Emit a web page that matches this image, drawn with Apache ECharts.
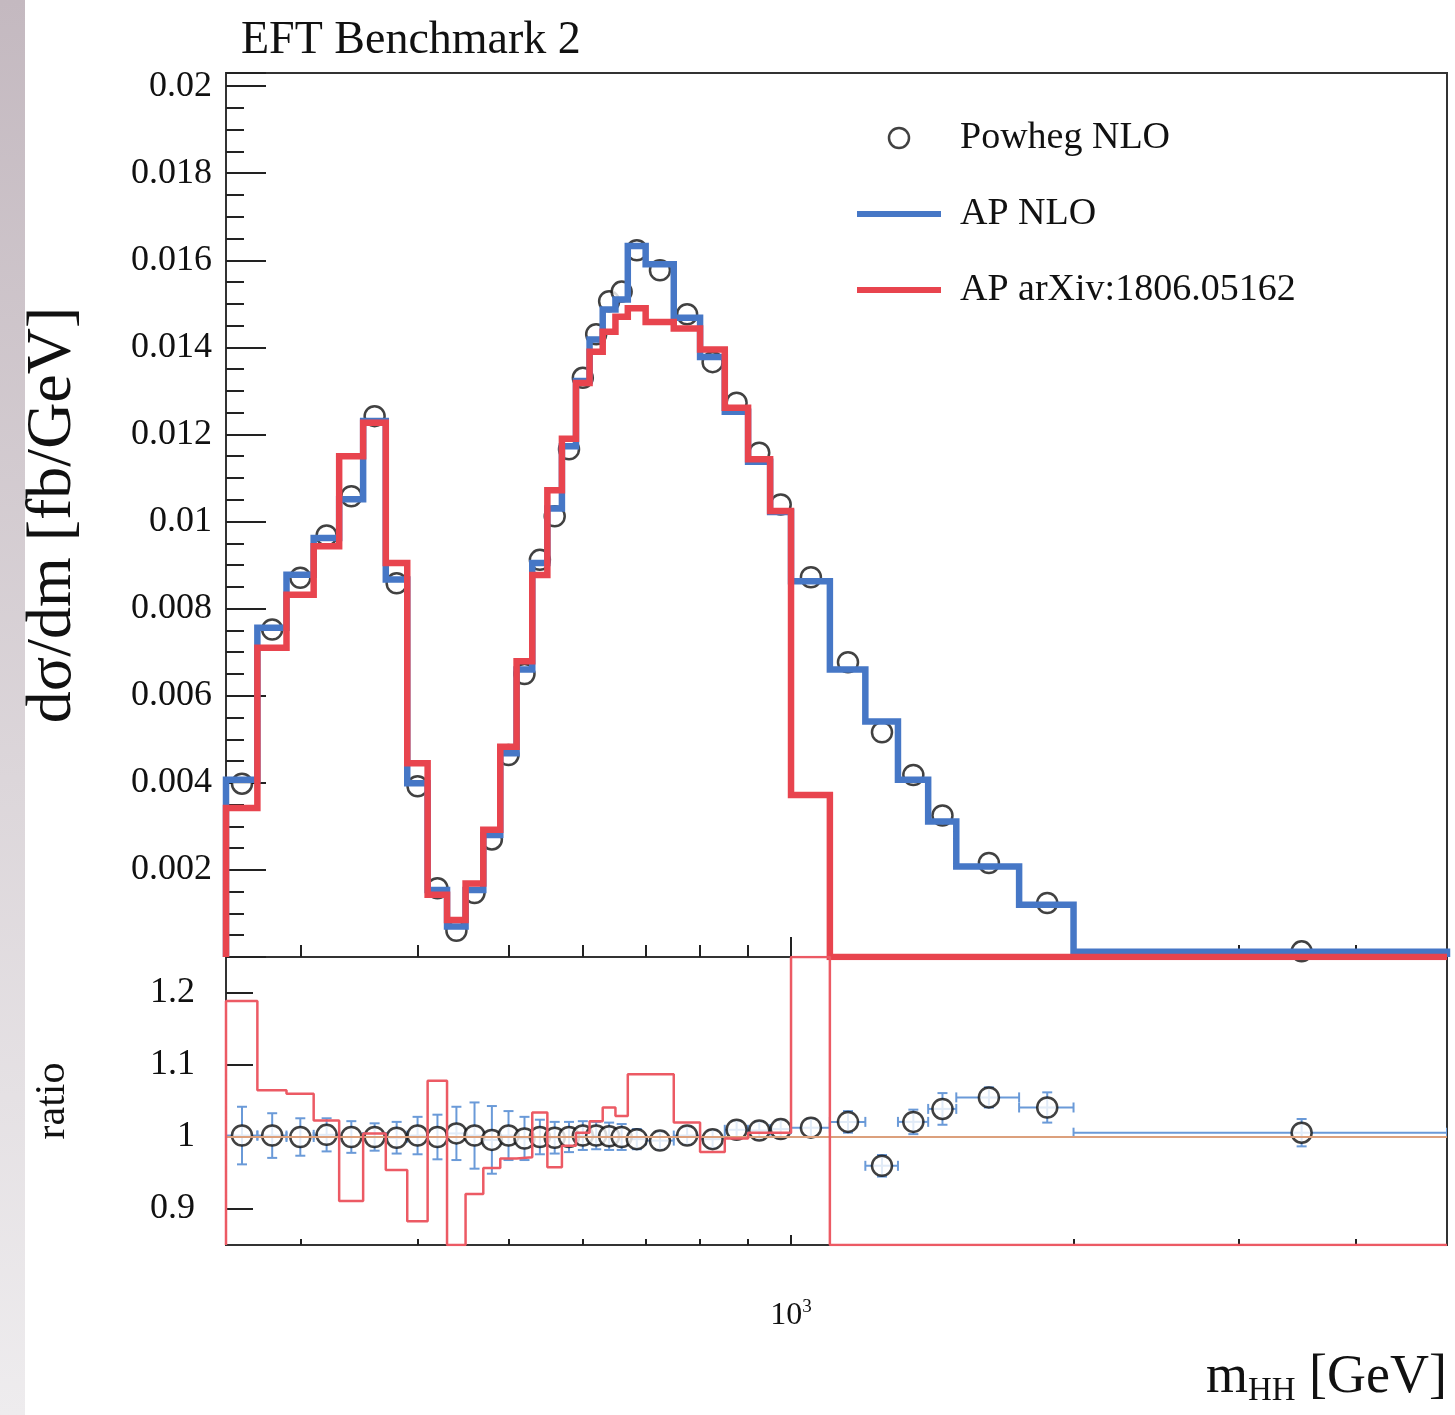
<!DOCTYPE html>
<html>
<head>
<meta charset="utf-8">
<script src="https://cdn.jsdelivr.net/npm/echarts@6/dist/echarts.min.js"></script>
<style>
html,body{margin:0;padding:0;background:#fff;}
#strip{position:absolute;left:0;top:0;width:25px;height:1415px;background:linear-gradient(to bottom,#c4b9c0,#dcd6da 55%,#eeecee);}
#chart{position:absolute;left:0;top:0;width:1455px;height:1415px;}
</style>
</head>
<body>
<div id="strip"></div>
<div id="chart"></div>
<script>
// ---- data ----
const binEdges = [250,270,290,310,330,350,370,390,410,430,450,470,490,510,530,550,570,590,610,630,650,670,700,750,800,850,900,950,1000,1100,1200,1300,1400,1500,1750,2000,5000];

const powhegNLO = [0.00398,0.00752,0.00871,0.00968,0.01058,0.01242,0.00858,0.00392,0.00158,0.00060,0.00147,0.00270,0.00464,0.00650,0.00912,0.01012,0.01166,0.01330,0.01430,0.01506,0.01528,0.01623,0.01577,0.01476,0.01366,0.01273,0.01158,0.01039,0.00872,0.00677,0.00516,0.00418,0.00325,0.00216,0.00124,0.00013];

const apNLO = [0.00407,0.00756,0.00878,0.00962,0.01051,0.01231,0.00867,0.00399,0.00154,0.00070,0.00154,0.00280,0.00468,0.00660,0.00905,0.01030,0.01173,0.01323,0.01418,0.01487,0.01510,0.01633,0.01591,0.01468,0.01378,0.01252,0.01137,0.01022,0.00863,0.00660,0.00541,0.00407,0.00311,0.00208,0.00120,0.00012];

const apArxiv = [0.00342,0.00710,0.00832,0.00943,0.01150,0.01227,0.00905,0.00445,0.00143,0.00085,0.00169,0.00292,0.00483,0.00679,0.00877,0.01072,0.01190,0.01318,0.01390,0.01436,0.01470,0.01490,0.01458,0.01443,0.01395,0.01261,0.01143,0.01024,0.00372,0,0,0,0,0,0,0];

const ratioPowheg = [1.002,1.002,1.000,1.003,1.000,1.000,0.999,1.002,1.000,1.005,1.002,0.996,1.002,0.998,1.000,0.999,1.000,1.002,1.002,1.001,1.000,0.997,0.995,1.002,0.997,1.010,1.009,1.011,1.013,1.021,0.960,1.021,1.039,1.055,1.041,1.006];

const ratioPowhegErr = [0.040,0.031,0.026,0.023,0.022,0.019,0.022,0.026,0.031,0.037,0.046,0.047,0.034,0.030,0.024,0.022,0.021,0.020,0.019,0.019,0.018,0.014,0.012,0.012,0.012,0.012,0.012,0.012,0.012,0.015,0.015,0.017,0.022,0.014,0.021,0.019];

const ratioArxiv = [1.189,1.065,1.060,1.023,0.911,1.005,0.954,0.883,1.078,0.75,0.921,0.957,0.970,0.972,1.034,0.958,0.988,1.006,1.022,1.041,1.029,1.087,1.087,1.020,0.979,0.998,1.006,1.006,2.3,0,0,0,0,0,0,0];

const xMinorTicks = [300,400,500,600,700,800,900,2000,3000,4000];
const xMajorTicks = [1000];
const ratioTicks = [0.9,1,1.1,1.2];

// ---- styles ----
const BLUE = '#4677c6', RED = '#e8444e', ERR = '#6a9ad8', RRED = '#ec5a64', ORANGE = '#dca07c';
const FONT = 'Liberation Serif';
const X_MIN = 250, X_MAX = 5000, Y_MAX = 0.0203, R_MIN = 0.85, R_MAX = 1.25;

const centers = binEdges.slice(0, -1).map((e, i) => (e + binEdges[i + 1]) / 2);
function stepPoints(vals, f) {
  f = f || (v => v);
  const last = binEdges.length - 1;
  const pts = [[binEdges[0], f(0)]];
  vals.forEach((v, i) => { pts.push([binEdges[i], f(v)], [binEdges[i + 1], f(v)]); });
  pts.push([binEdges[last], f(0)]);
  return pts;
}
const clampR = v => Math.min(R_MAX, Math.max(R_MIN, v));

function renderErr(params, api) {
  const xc = api.value(0), y = api.value(1), e = api.value(2), xl = api.value(3), xh = api.value(4);
  const t = api.coord([xc, y + e]), b = api.coord([xc, y - e]);
  const l = api.coord([xl, y]), r = api.coord([xh, y]);
  const cap = 5;
  const style = { stroke: ERR, lineWidth: 2 };
  const seg = (x1, y1, x2, y2) => ({ type: 'line', shape: { x1, y1, x2, y2 }, style });
  return { type: 'group', children: [
    seg(t[0], t[1], b[0], b[1]), seg(t[0] - cap, t[1], t[0] + cap, t[1]), seg(b[0] - cap, b[1], b[0] + cap, b[1]),
    seg(l[0], l[1], r[0], r[1]), seg(l[0], l[1] - cap, l[0], l[1] + cap), seg(r[0], r[1] - cap, r[0], r[1] + cap)
  ]};
}

function xAxisDef(grid, ticks, len, extra) {
  return Object.assign({
    gridIndex: grid, type: 'log', logBase: 10, min: X_MIN, max: X_MAX, position: 'bottom',
    axisLine: { show: false, onZero: false },
    axisTick: { show: true, inside: true, length: len, customValues: ticks, lineStyle: { color: '#222', width: 2 } },
    axisLabel: { show: false },
    splitLine: { show: false }, minorTick: { show: false }, minorSplitLine: { show: false }
  }, extra || {});
}

const chart = echarts.init(document.getElementById('chart'), null, { renderer: 'canvas' });
chart.setOption({
  animation: false,
  backgroundColor: 'transparent',
  title: {
    text: 'EFT Benchmark 2', left: 236, top: 13,
    textStyle: { fontFamily: FONT, fontSize: 46, fontWeight: 'normal', color: '#111' }
  },
  legend: {
    orient: 'vertical', left: 852, top: 113, itemWidth: 84, itemHeight: 20, itemGap: 36,
    selectedMode: false,
    textStyle: { fontFamily: FONT, fontSize: 38, color: '#111', lineHeight: 40, padding: [0, 0, 0, 14] },
    data: [
      { name: 'Powheg NLO', icon: 'circle', itemStyle: { color: '#fff', borderColor: '#111', borderWidth: 2.5 } },
      { name: 'AP NLO', icon: 'path://M0,0L84,0L84,6L0,6Z', itemStyle: { color: BLUE, borderWidth: 0 } },
      { name: 'AP arXiv:1806.05162', icon: 'path://M0,0L84,0L84,6L0,6Z', itemStyle: { color: RED, borderWidth: 0 } }
    ]
  },
  grid: [
    { left: 226, top: 73, width: 1221, height: 884, show: true, borderColor: '#333', borderWidth: 2, backgroundColor: 'rgba(0,0,0,0)', containLabel: false, outerBoundsMode: 'none' },
    { left: 226, top: 957, width: 1221, height: 288, show: true, borderColor: '#333', borderWidth: 2, backgroundColor: 'rgba(0,0,0,0)', containLabel: false, outerBoundsMode: 'none' }
  ],
  xAxis: [
    xAxisDef(0, xMinorTicks, 12, { axisLine: { show: true, onZero: false, lineStyle: { color: '#333', width: 2 } } }),
    xAxisDef(0, xMajorTicks, 20),
    xAxisDef(1, xMinorTicks, 6, { axisLine: { show: true, onZero: false, lineStyle: { color: '#333', width: 2 } } }),
    xAxisDef(1, xMajorTicks, 10, {
      axisLabel: {
        show: true, customValues: xMajorTicks, margin: 53, fontSize: 32, fontFamily: FONT,
        formatter: v => '{b|10}{s|' + Math.round(Math.log10(v)) + '}',
        rich: {
          b: { fontFamily: FONT, fontSize: 32, lineHeight: 36, color: '#111' },
          s: { fontFamily: FONT, fontSize: 19, lineHeight: 19, verticalAlign: 'top', color: '#111' }
        }
      },
      name: '{m|m}{s|HH}{m| [GeV]}', nameLocation: 'end', nameGap: 0,
      nameTextStyle: {
        align: 'right', verticalAlign: 'top', padding: [103, 0, 0, 0],
        rich: {
          m: { fontFamily: FONT, fontSize: 54, lineHeight: 60, color: '#111' },
          s: { fontFamily: FONT, fontSize: 33, lineHeight: 32, verticalAlign: 'bottom', color: '#111' }
        }
      }
    })
  ],
  yAxis: [
    {
      gridIndex: 0, type: 'value', position: 'left', min: 0, max: Y_MAX, interval: 0.002,
      axisLine: { show: true, onZero: false, lineStyle: { color: '#333', width: 2 } },
      axisTick: { show: true, inside: true, length: 40, lineStyle: { color: '#222', width: 2 } },
      minorTick: { show: true, splitNumber: 4, length: 18, lineStyle: { color: '#222', width: 2 } },
      splitLine: { show: false },
      axisLabel: {
        show: true, margin: 14, showMinLabel: false, showMaxLabel: false,
        fontFamily: FONT, fontSize: 36, color: '#111',
        formatter: v => (v <= 0 || v > 0.02001) ? '' : String(parseFloat(v.toFixed(4)))
      },
      name: 'dσ/dm [fb/GeV]', nameLocation: 'middle', nameRotate: 90, nameGap: 141,
      nameTextStyle: { fontFamily: FONT, fontSize: 64, color: '#111' }
    },
    {
      gridIndex: 1, type: 'value', position: 'left', min: R_MIN, max: R_MAX, interval: 0.05,
      axisLine: { show: true, onZero: false, lineStyle: { color: '#333', width: 2 } },
      axisTick: { show: true, inside: true, length: 27, customValues: ratioTicks, lineStyle: { color: '#222', width: 2 } },
      splitLine: { show: false },
      axisLabel: {
        show: true, margin: 31, customValues: ratioTicks,
        fontFamily: FONT, fontSize: 36, color: '#111',
        formatter: v => String(parseFloat(v.toFixed(2)))
      },
      name: 'ratio', nameLocation: 'middle', nameRotate: 90, nameGap: 152,
      nameTextStyle: { fontFamily: FONT, fontSize: 42, color: '#111' }
    }
  ],
  series: [
    {
      name: 'Powheg NLO', type: 'scatter', xAxisIndex: 0, yAxisIndex: 0, z: 2,
      data: centers.map((c, i) => [c, powhegNLO[i]]),
      symbol: 'circle', symbolSize: 20,
      itemStyle: { color: '#fff', borderColor: '#111', borderWidth: 2.5 }
    },
    {
      name: 'AP NLO', type: 'line', xAxisIndex: 0, yAxisIndex: 0, z: 3,
      data: stepPoints(apNLO), symbol: 'none', showSymbol: false,
      lineStyle: { color: BLUE, width: 6.5, join: 'miter' }, itemStyle: { color: BLUE }
    },
    {
      name: 'AP arXiv:1806.05162', type: 'line', xAxisIndex: 0, yAxisIndex: 0, z: 4,
      data: stepPoints(apArxiv), symbol: 'none', showSymbol: false,
      lineStyle: { color: RED, width: 6.5, join: 'miter' }, itemStyle: { color: RED }
    },
    {
      name: 'ratio errors', type: 'custom', xAxisIndex: 2, yAxisIndex: 1, z: 2, clip: true,
      renderItem: renderErr,
      encode: { x: 0, y: 1 },
      data: centers.map((c, i) => [c, ratioPowheg[i], ratioPowhegErr[i], binEdges[i], binEdges[i + 1]])
    },
    {
      name: 'Powheg / AP NLO', type: 'scatter', xAxisIndex: 2, yAxisIndex: 1, z: 3,
      data: centers.map((c, i) => [c, ratioPowheg[i]]),
      symbol: 'circle', symbolSize: 20,
      itemStyle: { color: '#fff', borderColor: '#111', borderWidth: 2.5 }
    },
    {
      name: 'AP NLO / AP arXiv', type: 'line', xAxisIndex: 2, yAxisIndex: 1, z: 5,
      data: stepPoints(ratioArxiv, clampR), symbol: 'none', showSymbol: false,
      lineStyle: { color: RRED, width: 2.5 }, itemStyle: { color: RRED },
      markLine: {
        silent: true, symbol: ['none', 'none'], label: { show: false },
        lineStyle: { color: ORANGE, width: 2, type: 'solid' },
        data: [{ yAxis: 1 }]
      }
    }
  ]
});
</script>
</body>
</html>
